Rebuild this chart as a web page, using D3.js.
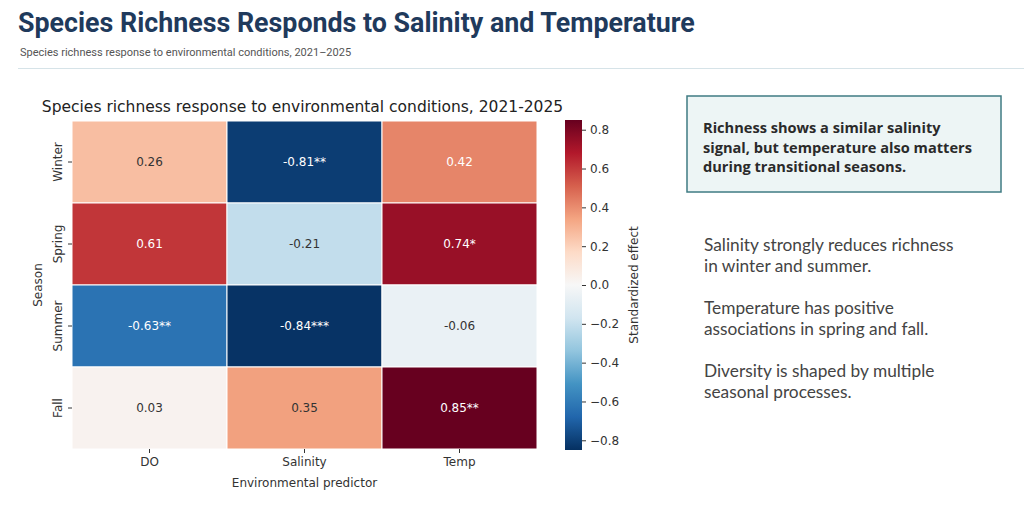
<!DOCTYPE html>
<html>
<head>
<meta charset="utf-8">
<script src="https://cdn.jsdelivr.net/npm/d3@7"></script>
<style>
  body { margin: 0; background: #fff; }
  svg { display: block; }
</style>
</head>
<body>
<div id="chart"></div>
<script>
// chart data
const seasons = ['Winter', 'Spring', 'Summer', 'Fall'];
const predictors = ['DO', 'Salinity', 'Temp'];
const effects = [
    [0.26, -0.81, 0.42],
    [0.61, -0.21, 0.74],
    [-0.63, -0.84, -0.06],
    [0.03, 0.35, 0.85]
];
const stars = [
    ['', '**', ''],
    ['', '', '*'],
    ['**', '***', ''],
    ['', '', '**']
];
const colorTicks = [-0.8, -0.6, -0.4, -0.2, 0, 0.2, 0.4, 0.6, 0.8];
const limit = 0.85;

const titleText = 'Species Richness Responds to Salinity and Temperature';
const subtitleText = 'Species richness response to environmental conditions, 2021\u20132025';
const chartTitle = 'Species richness response to environmental conditions, 2021-2025';
const calloutLines = [
    'Richness shows a similar salinity',
    'signal, but temperature also matters',
    'during transitional seasons.'
];
const notes = [
    ['Salinity strongly reduces richness', 'in winter and summer.'],
    ['Temperature has positive', 'associations in spring and fall.'],
    ['Diversity is shaped by multiple', 'seasonal processes.']
];

const width = 1024, height = 531;
const mpl = 'DejaVu Sans, sans-serif';

const svg = d3.select('#chart').append('svg')
    .attr('width', width)
    .attr('height', height);

svg.append('rect').attr('width', width).attr('height', height).attr('fill', '#fff');

// header
svg.append('text')
    .attr('x', 18).attr('y', 32)
    .attr('font-family', 'Roboto, sans-serif')
    .attr('font-weight', 700)
    .attr('font-size', 26.8)
    .attr('fill', '#1f3a5c')
    .text(titleText);

svg.append('text')
    .attr('x', 20).attr('y', 56)
    .attr('font-family', 'Roboto, sans-serif')
    .attr('font-size', 11)
    .attr('fill', '#555')
    .text(subtitleText);

svg.append('line')
    .attr('x1', 18).attr('x2', width)
    .attr('y1', 68.5).attr('y2', 68.5)
    .attr('stroke', '#d6e3e8').attr('stroke-width', 1);

// heatmap
const hm = {left: 72, top: 121, right: 537, bottom: 449};

const x = d3.scaleBand().domain(predictors).range([hm.left, hm.right]);
const y = d3.scaleBand().domain(seasons).range([hm.top, hm.bottom]);

const rdbu = d3.schemeRdBu[11].slice().reverse();
const color = d3.scaleLinear()
    .domain(d3.range(11).map(i => -limit + i * (2 * limit / 10)))
    .range(rdbu)
    .interpolate(d3.interpolateRgb)
    .clamp(true);

const cells = [];
seasons.forEach((s, i) => predictors.forEach((p, j) => {
    cells.push({season: s, predictor: p, value: effects[i][j], star: stars[i][j]});
}));

function textColor(c) {
    const rgb = d3.rgb(c);
    const lin = v => { v /= 255; return v <= 0.03928 ? v / 12.92 : Math.pow((v + 0.055) / 1.055, 2.4); };
    const lum = 0.2126 * lin(rgb.r) + 0.7152 * lin(rgb.g) + 0.0722 * lin(rgb.b);
    return lum > 0.408 ? '#333' : '#fff';
}

const g = svg.append('g');

g.selectAll('rect.cell')
    .data(cells)
    .enter()
    .append('rect')
    .attr('class', 'cell')
    .attr('x', d => x(d.predictor))
    .attr('y', d => y(d.season))
    .attr('width', x.bandwidth())
    .attr('height', y.bandwidth())
    .attr('fill', d => color(d.value))
    .attr('stroke', '#fff')
    .attr('stroke-width', 1);

g.selectAll('text.annot')
    .data(cells)
    .enter()
    .append('text')
    .attr('class', 'annot')
    .attr('x', d => x(d.predictor) + x.bandwidth() / 2)
    .attr('y', d => y(d.season) + y.bandwidth() / 2)
    .attr('dy', '0.35em')
    .attr('text-anchor', 'middle')
    .attr('font-family', mpl)
    .attr('font-size', 12)
    .attr('fill', d => textColor(color(d.value)))
    .text(d => d.value.toFixed(2) + d.star);

// axes
const xAxis = svg.append('g')
    .attr('transform', `translate(0,${hm.bottom})`)
    .call(d3.axisBottom(x).tickSize(4).tickPadding(4));
const yAxis = svg.append('g')
    .attr('transform', `translate(${hm.left},0)`)
    .call(d3.axisLeft(y).tickSize(4).tickPadding(4));

[xAxis, yAxis].forEach(a => {
    a.select('.domain').remove();
    a.selectAll('.tick line').attr('stroke', '#333');
    a.selectAll('.tick text')
        .attr('font-family', mpl)
        .attr('font-size', 12)
        .attr('fill', '#333');
});

yAxis.selectAll('.tick text')
    .attr('x', null).attr('dy', null)
    .attr('text-anchor', 'middle')
    .attr('transform', 'translate(-10,0) rotate(-90)');

svg.append('text')
    .attr('transform', `translate(42,${(hm.top + hm.bottom) / 2}) rotate(-90)`)
    .attr('text-anchor', 'middle')
    .attr('font-family', mpl)
    .attr('font-size', 12)
    .attr('fill', '#333')
    .text('Season');

svg.append('text')
    .attr('x', (hm.left + hm.right) / 2)
    .attr('y', 487)
    .attr('text-anchor', 'middle')
    .attr('font-family', mpl)
    .attr('font-size', 12)
    .attr('fill', '#333')
    .text('Environmental predictor');

svg.append('text')
    .attr('x', (hm.left + hm.right) / 2 - 2)
    .attr('y', 112)
    .attr('text-anchor', 'middle')
    .attr('font-family', mpl)
    .attr('font-size', 15.5)
    .attr('fill', '#222')
    .text(chartTitle);

// colorbar
const cb = {left: 565, width: 17, top: 120, bottom: 450};
const cy = d3.scaleLinear().domain([-limit, limit]).range([cb.bottom, cb.top]);

const grad = svg.append('defs').append('linearGradient')
    .attr('id', 'cbgrad')
    .attr('x1', 0).attr('x2', 0).attr('y1', 1).attr('y2', 0);
grad.selectAll('stop')
    .data(color.domain())
    .enter()
    .append('stop')
    .attr('offset', (d, i) => i / 10)
    .attr('stop-color', d => color(d));

svg.append('rect')
    .attr('x', cb.left).attr('y', cb.top)
    .attr('width', cb.width).attr('height', cb.bottom - cb.top)
    .attr('fill', 'url(#cbgrad)');

const cAxis = svg.append('g')
    .attr('transform', `translate(${cb.left + cb.width},0)`)
    .call(d3.axisRight(cy).tickValues(colorTicks).tickFormat(d3.format('.1f')).tickSize(4).tickPadding(4));
cAxis.select('.domain').remove();
cAxis.selectAll('.tick line').attr('stroke', '#333');
cAxis.selectAll('.tick text')
    .attr('font-family', mpl)
    .attr('font-size', 12)
    .attr('fill', '#333');

svg.append('text')
    .attr('transform', `translate(638,${(cb.top + cb.bottom) / 2}) rotate(-90)`)
    .attr('text-anchor', 'middle')
    .attr('font-family', mpl)
    .attr('font-size', 12)
    .attr('fill', '#333')
    .text('Standardized effect');

// side panel
svg.append('rect')
    .attr('x', 687).attr('y', 96)
    .attr('width', 314).attr('height', 96)
    .attr('fill', '#edf5f5')
    .attr('stroke', '#3f7b83')
    .attr('stroke-width', 1.5);

svg.append('g')
    .selectAll('text')
    .data(calloutLines)
    .enter()
    .append('text')
    .attr('x', 703)
    .attr('y', (d, i) => 133 + i * 19.5)
    .attr('font-family', '"Open Sans", sans-serif')
    .attr('font-weight', 700)
    .attr('font-size', 14.6)
    .attr('fill', '#2a2a2a')
    .text(d => d);

const noteG = svg.append('g');
notes.forEach((para, i) => {
    noteG.selectAll(null)
        .data(para)
        .enter()
        .append('text')
        .attr('x', 704)
        .attr('y', (d, j) => 251 + i * 63 + j * 20.5)
        .attr('font-family', 'Lato, sans-serif')
        .attr('font-size', 17.3)
        .attr('fill', '#444')
        .text(d => d);
});
</script>
</body>
</html>
